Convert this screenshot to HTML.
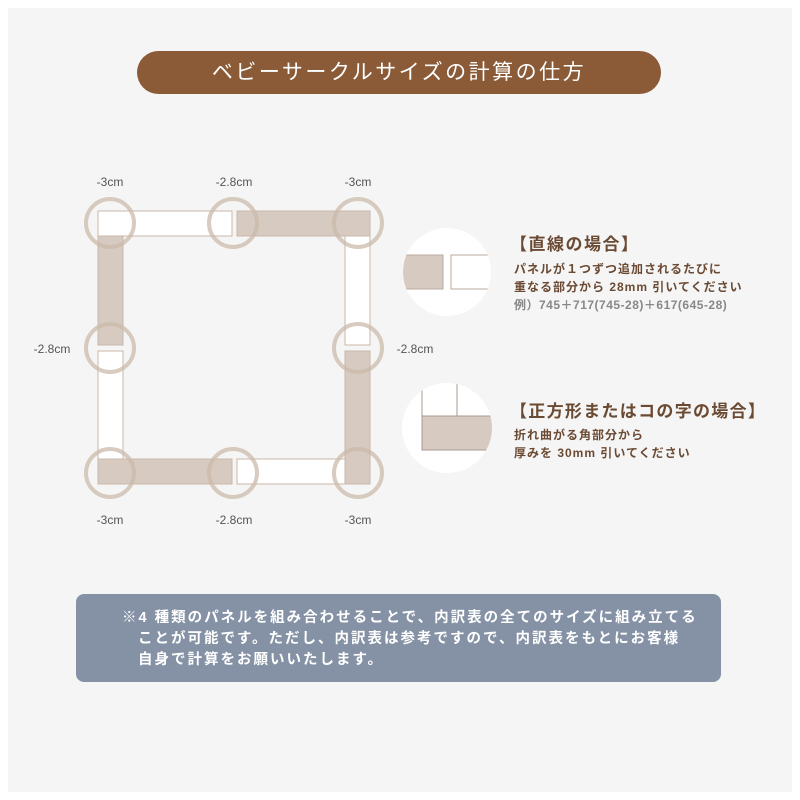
<!DOCTYPE html>
<html><head><meta charset="utf-8"><style>
body{margin:0;width:800px;height:800px;background:#fff;position:relative;overflow:hidden;font-family:"Liberation Sans","Noto Sans CJK JP",sans-serif}
.bg{position:absolute;left:8px;top:8px;width:784px;height:784px;background:#f5f5f5}
.pill{position:absolute;left:137px;top:51px;width:524px;height:43px;border-radius:22px;background:#8b5b38;color:#fff;font-size:21px;text-align:center;line-height:43px;letter-spacing:2.5px}
.t{position:absolute;color:#6b4a33;font-weight:bold;white-space:nowrap}
.note{position:absolute;left:76px;top:594px;width:645px;height:88px;border-radius:8px;background:#8592a5;color:#fff;font-size:14.5px;font-weight:bold;line-height:21px;letter-spacing:2px;white-space:nowrap}
</style></head><body>
<div class="bg"></div>
<div class="pill">ベビーサークルサイズの計算の仕方</div>
<svg style="position:absolute;left:0;top:0" width="800" height="800">
<g font-family="Liberation Sans" font-size="12" fill="#555" text-anchor="middle">
<text x="110" y="186">-3cm</text><text x="234" y="186">-2.8cm</text><text x="358" y="186">-3cm</text>
<text x="110" y="524">-3cm</text><text x="234" y="524">-2.8cm</text><text x="358" y="524">-3cm</text>
<text x="52" y="353">-2.8cm</text><text x="415" y="353">-2.8cm</text>
</g>
<g stroke="#c9b8aa" stroke-width="1">
<rect x="98" y="211" width="134" height="25" fill="#fff"/>
<rect x="237" y="211" width="133" height="25" fill="#d7cbc1"/>
<rect x="98" y="236" width="25" height="109" fill="#d7cbc1"/>
<rect x="98" y="351" width="25" height="108" fill="#fff"/>
<rect x="98" y="459" width="134" height="25" fill="#d7cbc1"/>
<rect x="237" y="459" width="108" height="25" fill="#fff"/>
<rect x="345" y="236" width="25" height="109" fill="#fff"/>
<rect x="345" y="351" width="25" height="133" fill="#d7cbc1"/>
</g>
<g fill="none" stroke="#cbb9aa" stroke-opacity="0.75" stroke-width="4">
<circle cx="110" cy="223" r="24"/><circle cx="233" cy="223" r="24"/><circle cx="358" cy="223" r="24"/>
<circle cx="110" cy="348" r="24"/><circle cx="358" cy="348" r="24"/>
<circle cx="110" cy="473" r="24"/><circle cx="233" cy="473" r="24"/><circle cx="358" cy="473" r="24"/>
</g>
<defs><clipPath id="c1"><circle cx="447" cy="272" r="44"/></clipPath><clipPath id="c2"><circle cx="447" cy="428" r="45"/></clipPath></defs>
<circle cx="447" cy="272" r="44" fill="#fff"/>
<g clip-path="url(#c1)" stroke="#b9aa9e">
<rect x="400" y="255" width="43" height="34" fill="#d7cbc1"/>
<rect x="451" y="255" width="45" height="34" fill="#fff"/>
</g>
<circle cx="447" cy="428" r="45" fill="#fff"/>
<g clip-path="url(#c2)" stroke="#a89a8e">
<rect x="422" y="416" width="80" height="34" fill="#d7cbc1"/>
<line x1="422" y1="380" x2="422" y2="416"/><line x1="457" y1="380" x2="457" y2="416"/>
</g>
</svg>
<div class="t" style="left:510px;top:230px;font-size:17px;letter-spacing:1.5px">【直線の場合】</div>
<div class="t" style="left:514px;top:260px;font-size:12px;line-height:18px;letter-spacing:1px">パネルが１つずつ追加されるたびに<br>重なる部分から 28mm 引いてください<br><span style="color:#888;letter-spacing:0.5px">例）745＋717(745-28)＋617(645-28)</span></div>
<div class="t" style="left:510px;top:397px;font-size:17px;letter-spacing:1.3px">【正方形またはコの字の場合】</div>
<div class="t" style="left:514px;top:426px;font-size:12px;line-height:18px;letter-spacing:1px">折れ曲がる角部分から<br>厚みを 30mm 引いてください</div>
<div class="note"><div style="position:absolute;left:46px;top:14px">※4 種類のパネルを組み合わせることで、内訳表の全てのサイズに組み立てる</div><div style="position:absolute;left:62px;top:35px">ことが可能です。ただし、内訳表は参考ですので、内訳表をもとにお客様</div><div style="position:absolute;left:62px;top:56px">自身で計算をお願いいたします。</div></div>
</body></html>
